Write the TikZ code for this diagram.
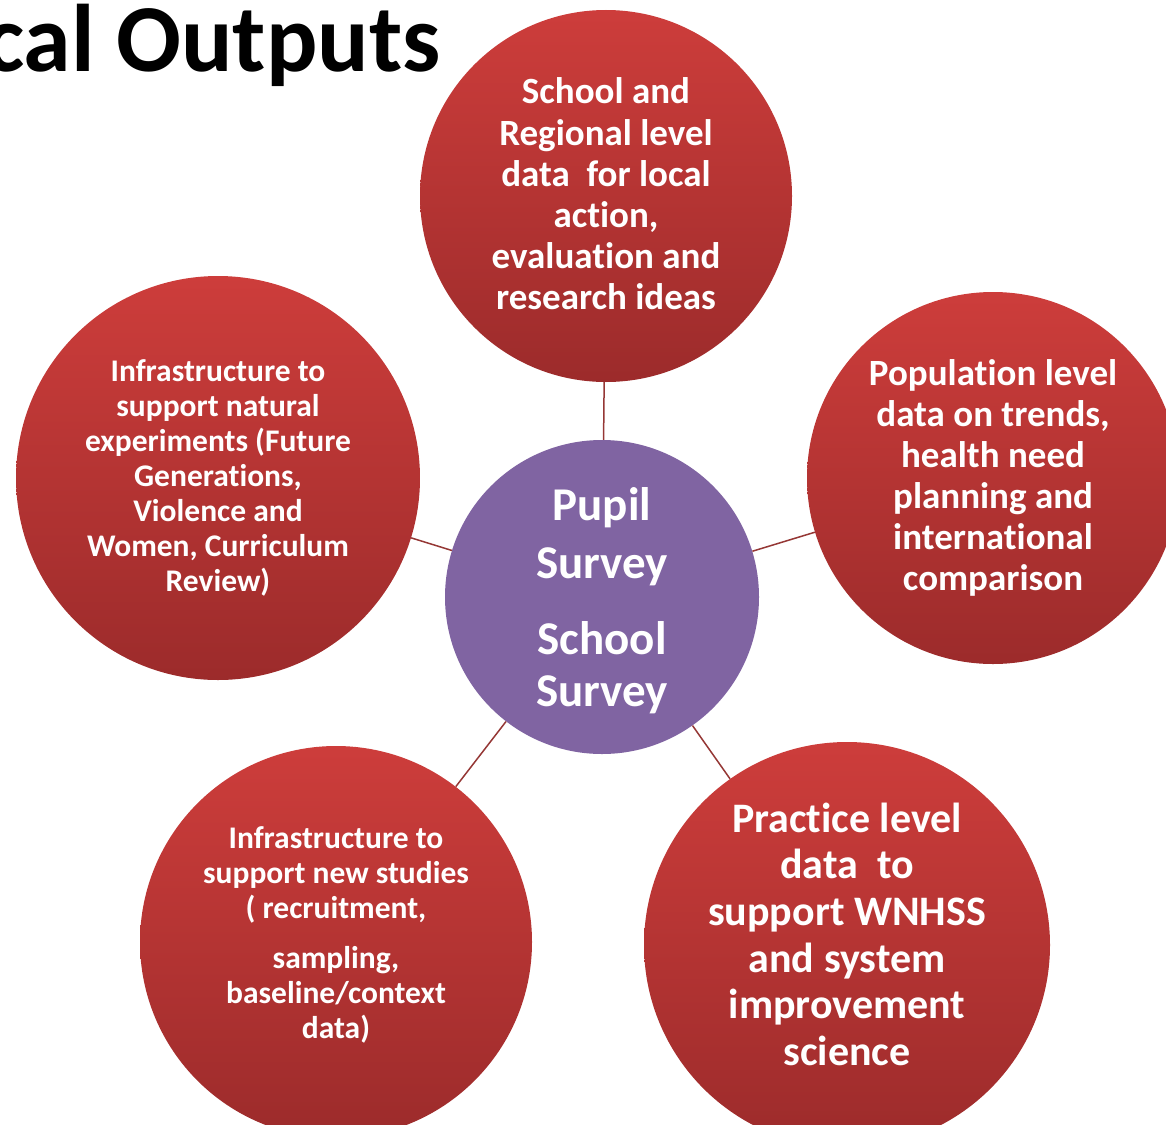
\documentclass[tikz,border=0pt]{standalone}
\usepackage{fontspec}
\setmainfont{Carlito}[Ligatures=NoCommon]
\usepackage{tikz}
\usetikzlibrary{positioning}
\definecolor{bubTop}{HTML}{CD3D3B}
\definecolor{bubBot}{HTML}{9C2B2B}
\definecolor{hubFill}{HTML}{8064A2}
\definecolor{lnkCol}{HTML}{953735}
\newcommand{\fsz}[2]{\fontsize{#1}{#2}\selectfont}

\begin{document}
\begin{tikzpicture}[x=1pt, y=-1pt, bub/.style={circle, inner sep=0pt, top color=bubTop, bottom color=bubBot, text=white, align=center}, hub/.style={circle, inner sep=0pt, fill=hubFill, text=white, align=center, font=\bfseries\fsz{47}{52}}, lnk/.style={draw=lnkCol, line width=1.5pt}]
\useasboundingbox (0,0) rectangle (1166,1124);
\clip (0,0) rectangle (1166,1124);
\node[font=\bfseries\fsz{96}{100}, anchor=base east, inner sep=0pt] (title) at (441,71) {cal Outputs};
\node[hub, minimum size=314pt, text depth=0pt] (hubn) at (602,597) {Pupil\\[6pt]Survey\\[24pt]School\\Survey};
\node[bub, minimum size=372pt, font=\bfseries\fsz{37}{41.2}, text depth=4pt] (regn) at (606,196) {School and\\Regional level\\data~ for local\\action,\\evaluation and\\research ideas};
\node[bub, minimum size=372pt, font=\bfseries\fsz{37}{41}] (popn) at (993,478) {Population level\\data on trends,\\health need\\planning and\\international\\comparison};
\node[bub, minimum size=404pt, font=\bfseries\fsz{31.5}{35}] (natn) at (218,478) {Infrastructure to\\support natural\\experiments (Future\\Generations,\\Violence and\\Women, Curriculum\\Review)};
\node[bub, minimum size=392pt, font=\bfseries\fsz{31.5}{35}, text depth=19pt] (newn) at (336,942) {Infrastructure to\\support new studies\\( recruitment,\\[15pt]sampling,\\baseline/context\\data)};
\node[bub, minimum size=406pt, font=\bfseries\fsz{42}{46.6}, text depth=22pt] (prcn) at (847,945) {Practice level\\data~ to\\support WNHSS\\and system\\improvement\\science};
\draw[lnk] (hubn) -- (regn);
\draw[lnk] (hubn) -- (popn);
\draw[lnk] (hubn) -- (natn);
\draw[lnk] (hubn) -- (newn);
\draw[lnk] (hubn) -- (prcn);
\end{tikzpicture}
\end{document}
